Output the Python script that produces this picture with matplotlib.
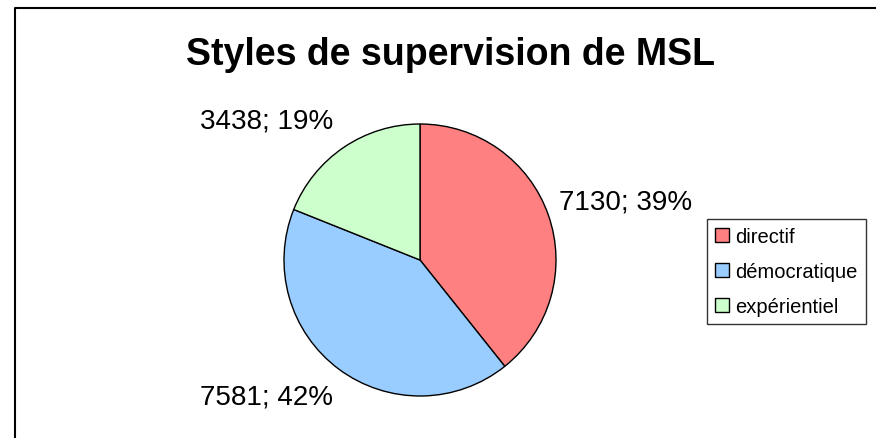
import matplotlib
matplotlib.use("Agg")
import matplotlib.pyplot as plt
from matplotlib.patches import Patch
from matplotlib.lines import Line2D

categories = ["directif", "démocratique", "expérientiel"]
values = [7130, 7581, 3438]
percents = [39, 42, 19]
colors = ["#FF8080", "#99CCFF", "#CCFFCC"]

W, H = 876, 439
plt.rcParams["font.family"] = ["Liberation Sans", "DejaVu Sans"]

fig = plt.figure(figsize=(W / 100, H / 100), dpi=100)

# outer chart border (right/bottom edges fall outside the image)
fig.add_artist(Line2D([15 / W, 15 / W, 1.01], [-0.1, 1 - 9 / H, 1 - 9 / H],
                      transform=fig.transFigure, color="black", lw=1.5))

# pie centre (420, 261) px, radius 136 px
cx, cy, r = 420, 261, 136
ax = fig.add_axes([(cx - r) / W, (H - cy - r) / H, 2 * r / W, 2 * r / H])
ax.pie(values, colors=colors, startangle=90, counterclock=False,
       wedgeprops=dict(edgecolor="black", linewidth=1.0))
ax.set_xlim(-1, 1)
ax.set_ylim(-1, 1)
ax.axis("off")

labels = [f"{v}; {p}%" for v, p in zip(values, percents)]
label_pos = [(626, 203), (267, 398), (267, 122)]
for lab, (x, y) in zip(labels, label_pos):
    fig.text(x / W, 1 - y / H, lab, fontsize=20, ha="center", va="center")

fig.text(451 / W, 1 - 65 / H, "Styles de supervision de MSL", fontsize=27,
         fontweight="bold", ha="center", va="baseline")

handles = [Patch(facecolor=c, edgecolor="black", linewidth=1.0) for c in colors]
leg = fig.legend(handles, categories, loc="lower left",
                 bbox_to_anchor=(707 / W, 1 - 325 / H), fontsize=14.5,
                 frameon=True, fancybox=False, handlelength=0.7, handleheight=0.7,
                 handletextpad=0.3, borderpad=0.4, labelspacing=0.8,
                 borderaxespad=0)
leg.get_frame().set_edgecolor("black")
leg.get_frame().set_linewidth(1.0)

fig.savefig("out.png", dpi=100)
